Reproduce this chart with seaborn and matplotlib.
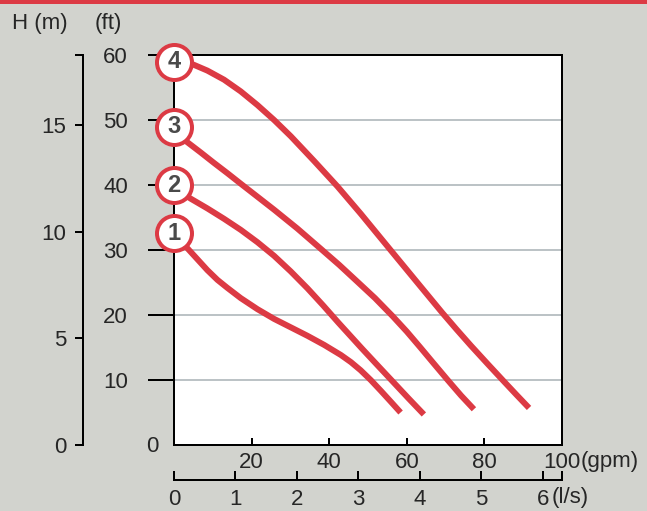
import pandas as pd
import matplotlib
matplotlib.use("Agg")
import matplotlib.pyplot as plt
from matplotlib.patches import Rectangle
import seaborn as sns

# Pump curves: flow in gpm, head in ft
pump_labels = ["1", "2", "3", "4"]
badge_ft = [32.6, 40.0, 49.0, 59.0]

gpm_1 = [0, 3.4, 6.0, 8.6, 11.2, 13.7, 17.2, 21.5, 25.8, 30.1, 34.4, 38.7, 43.0,
         45.6, 48.1, 50.7, 53.3, 55.9, 58.4]
ft_1 = [32.4, 30.3, 28.6, 26.9, 25.4, 24.2, 22.6, 20.9, 19.4, 18.1, 16.8, 15.4, 13.85,
        12.75, 11.5, 10.0, 8.35, 6.65, 5.0]
gpm_2 = [0, 4.3, 8.6, 12.9, 17.2, 21.5, 25.8, 30.1, 34.4, 38.4, 42.4, 48.5, 52.4,
         56.4, 60.4, 64.4]
ft_2 = [39.6, 37.9, 36.4, 34.8, 33.1, 31.2, 29.1, 26.7, 24.1, 21.5, 18.8, 14.8, 12.3,
        9.75, 7.2, 4.7]
gpm_3 = [0, 3.4, 6.9, 10.3, 13.8, 17.2, 21.5, 25.8, 31.8, 37.8, 42.6, 47.3, 51.8,
         56.3, 60.0, 63.5, 67.0, 70.6, 74.0, 77.3]
ft_3 = [48.3, 46.6, 45.0, 43.4, 41.8, 40.2, 38.2, 36.2, 33.3, 30.2, 27.7, 25.1, 22.6,
        19.85, 17.45, 15.0, 12.5, 9.95, 7.6, 5.5]
gpm_4 = [0, 4.3, 8.6, 12.9, 17.2, 21.5, 25.8, 30.1, 36.1, 42.1, 48.1, 55.8, 62.7,
         69.2, 72.8, 76.5, 80.8, 85.0, 88.3, 91.5]
ft_4 = [59.2, 58.7, 57.6, 56.2, 54.4, 52.3, 50.0, 47.5, 43.7, 39.8, 35.6, 30.0, 25.0,
        20.3, 17.8, 15.3, 12.5, 9.8, 7.7, 5.7]

ft_ticks = [10, 20, 30, 40, 50, 60]
m_ticks = [0, 5, 10, 15]
gpm_ticks = [20, 40, 60, 80, 100]
ls_ticks = [0, 1, 2, 3, 4, 5, 6]

FT_PER_M = 3.28084
GPM_PER_LS = 15.85

RED = "#dc3a44"
BG = "#d2d3ce"
TXT = "#262626"
PX = 0.72  # points per pixel at dpi 100


def main():
    sns.set_theme(style="white")
    plt.rcParams["font.family"] = ["Liberation Sans Narrow", "Liberation Sans", "DejaVu Sans"]

    curves = []
    for lab, g, f in zip(pump_labels, [gpm_1, gpm_2, gpm_3, gpm_4], [ft_1, ft_2, ft_3, ft_4]):
        curves.append(pd.DataFrame({"gpm": g, "ft": f, "pump": lab}))
    df = pd.concat(curves, ignore_index=True)

    fig = plt.figure(figsize=(6.47, 5.11), dpi=100, facecolor=BG)
    fig.add_artist(Rectangle((0, 1 - 4 / 511), 1, 4 / 511, transform=fig.transFigure,
                             color=RED, lw=0))

    ax = fig.add_axes([174 / 647, 66 / 511, 388 / 647, 390 / 511])
    ax.set_facecolor("white")
    ax.set_xlim(0, 100)
    ax.set_ylim(0, 60)

    sns.lineplot(data=df, x="gpm", y="ft", hue="pump", estimator=None, sort=False,
                 palette=[RED] * 4, legend=False, lw=6 * PX, solid_capstyle="butt",
                 solid_joinstyle="round", ax=ax, zorder=3)

    # numbered badges at the start of each curve
    for lab, f in zip(pump_labels, badge_ft):
        ax.plot(0, f, "o", ms=35 * PX, mfc="white", mec=RED, mew=4 * PX,
                clip_on=False, zorder=5)
        ax.text(0, f, lab, ha="center", va="center", fontsize=17,
                fontweight="bold", color="#4a4a4a", family=["Liberation Sans", "DejaVu Sans"],
                zorder=6, clip_on=False)

    for s in ax.spines.values():
        s.set_color("black")
        s.set_linewidth(2 * PX)
    ax.set_xlabel("")
    ax.set_ylabel("")

    ax.set_yticks(ft_ticks)
    ax.set_yticklabels([str(t) for t in ft_ticks])
    ax.tick_params(axis="y", direction="out", length=26 * PX, width=2 * PX,
                   pad=20 * PX, labelsize=16, labelcolor=TXT, color="black", left=True)
    ax.yaxis.get_major_ticks()[-1].tick1line.set_visible(False)
    ax.grid(axis="y", color="#bcc3c6", lw=2 * PX)
    ax.grid(axis="x", visible=False)
    ax.set_axisbelow(True)

    ax.set_xticks(gpm_ticks)
    ax.set_xticklabels([str(t) for t in gpm_ticks])
    ax.tick_params(axis="x", direction="in", length=7 * PX, width=2 * PX,
                   pad=7 * PX, labelsize=16, labelcolor=TXT, color="black", bottom=True)

    # metre scale on the far left
    ax_m = ax.twinx()
    ax_m.set_ylim(0, 60 / FT_PER_M)
    ax_m.yaxis.set_ticks_position("left")
    ax_m.yaxis.set_label_position("left")
    for k in ["top", "right", "bottom"]:
        ax_m.spines[k].set_visible(False)
    ax_m.spines["left"].set_visible(True)
    ax_m.spines["left"].set_position(("outward", (174 - 83) * PX))
    ax_m.spines["left"].set_linewidth(2 * PX)
    ax_m.spines["left"].set_color("black")
    ax_m.set_yticks(m_ticks + [60 / FT_PER_M])
    ax_m.set_yticklabels([str(t) for t in m_ticks] + [""])
    ax_m.tick_params(axis="y", direction="out", length=8 * PX, width=2 * PX,
                     pad=9 * PX, labelsize=16, labelcolor=TXT, color="black", left=True)

    # l/s scale under the gpm scale
    ax_ls = ax.twiny()
    ax_ls.set_xlim(0, 100 / GPM_PER_LS)
    ax_ls.xaxis.set_ticks_position("bottom")
    ax_ls.xaxis.set_label_position("bottom")
    for k in ["top", "right", "left"]:
        ax_ls.spines[k].set_visible(False)
    ax_ls.spines["bottom"].set_visible(True)
    ax_ls.spines["bottom"].set_position(("outward", 35 * PX))
    ax_ls.spines["bottom"].set_linewidth(2 * PX)
    ax_ls.spines["bottom"].set_color("black")
    ax_ls.set_xticks(ls_ticks + [100 / GPM_PER_LS])
    ax_ls.set_xticklabels([str(t) for t in ls_ticks] + [""])
    ax_ls.tick_params(axis="x", direction="in", length=9 * PX, width=2 * PX,
                      pad=9 * PX, labelsize=16, labelcolor=TXT, color="black", bottom=True)

    # unit labels
    fig.text(12 / 647, 1 - 24 / 511, "H (m)", ha="left", va="center", fontsize=16, color=TXT)
    fig.text(95 / 647, 1 - 24 / 511, "(ft)", ha="left", va="center", fontsize=16, color=TXT)
    fig.text(152 / 647, 1 - 446 / 511, "0", ha="center", va="center", fontsize=16, color=TXT)
    fig.text(581 / 647, 1 - 461 / 511, "(gpm)", ha="left", va="center", fontsize=16, color=TXT)
    fig.text(552 / 647, 1 - 498 / 511, "(l/s)", ha="left", va="center", fontsize=16, color=TXT)

    fig.savefig("out.png", dpi=100, facecolor=BG)


if __name__ == "__main__":
    main()
